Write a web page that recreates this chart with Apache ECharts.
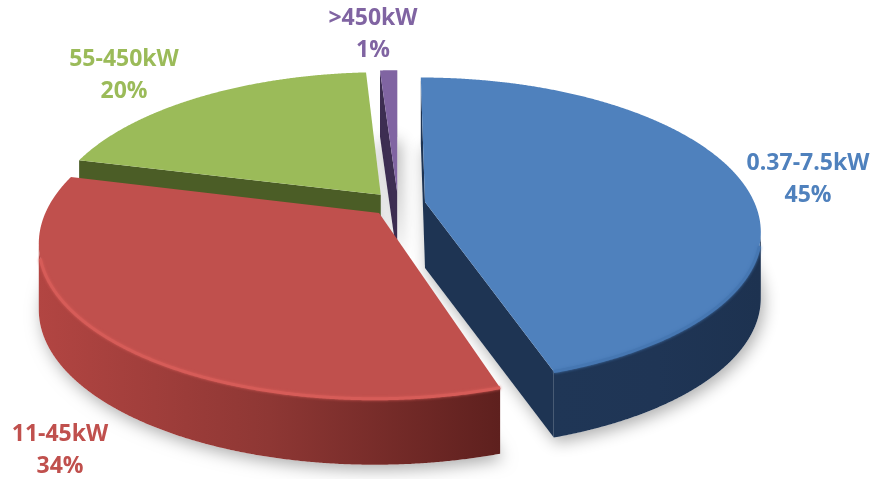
<!DOCTYPE html>
<html>
<head>
<meta charset="utf-8">
<script src="https://cdn.jsdelivr.net/npm/echarts@6/dist/echarts.min.js"></script>
<style>
  html, body { margin: 0; padding: 0; background: #ffffff; }
  #chart { width: 875px; height: 479px; }
</style>
</head>
<body>
<div id="chart"></div>
<script>
// Motor power classes and their share of the installed base (%)
const categories = ['0.37-7.5kW', '11-45kW', '55-450kW', '>450kW'];
const shares = [45, 34, 20, 1];

// Label anchors (centre of the two-line label), in pixels
const labelAnchors = [[808, 179], [60, 450], [124, 75], [373, 34]];

// Per-slice colours: top face, outer wall, cut face, rim highlight, label
const palette = [
  { top: '#4f81bd', wall: ['#1f3656', '#1f3555', '#1d3250'], cut: '#1e3453', rim: '#4677b2', label: '#4f81bd' },
  { top: '#c0504d', wall: ['#b24542', '#8e3734', '#5e201e'], cut: '#7a2c2a', rim: '#d65c58', label: '#c0504d' },
  { top: '#9bbb59', wall: ['#55692c', '#4f6128', '#465724'], cut: '#4b5d26', rim: '#a9c86a', label: '#9bbb59' },
  { top: '#8064a2', wall: ['#46355c', '#3f3054', '#392b4c'], cut: '#3d2e52', rim: '#8f74b0', label: '#8064a2' }
];

// Tilted, perspective view of the pie disc
const view = { cx: 398, cy: 204, ax: 330, bz: 148, depth: 66, persp: 0.183, explode: 0.083 };
const camZ = 1 / view.persp;

const total = shares.reduce((a, b) => a + b, 0);
const bounds = [];
let acc = 0;
shares.forEach(v => {
  const a0 = acc / total * 2 * Math.PI;
  acc += v;
  bounds.push([a0, acc / total * 2 * Math.PI]);
});

// explode each slice outward along its mid angle (angles clockwise from the back)
function offsetOf(i) {
  const m = (bounds[i][0] + bounds[i][1]) / 2;
  return [view.explode * Math.sin(m), -view.explode * Math.cos(m)];
}
function project(X, Z, h) {
  const f = 1 / (1 - view.persp * Z);
  return [view.cx + view.ax * X * f, view.cy + view.bz * Z * f + view.depth * h];
}
function pt(i, th, r, h) {
  const o = offsetOf(i);
  return project(o[0] + r * Math.sin(th), o[1] - r * Math.cos(th), h);
}
function wallVisible(i, th) {
  const o = offsetOf(i);
  return -o[0] * Math.sin(th) - 1 - (camZ - o[1]) * Math.cos(th) > 0;
}
function cutVisible(i, th, isStart) {
  const o = offsetOf(i);
  const nx = isStart ? -Math.cos(th) : Math.cos(th);
  const nz = isStart ? -Math.sin(th) : Math.sin(th);
  return -o[0] * nx + (camZ - o[1]) * nz > 0;
}

// back-to-front drawing order
const order = shares.map((_, i) => i).sort((a, b) => offsetOf(a)[1] - offsetOf(b)[1]);
const rank = [];
order.forEach((idx, k) => { rank[idx] = k; });

const DEG = Math.PI / 180;

function renderItem(params, api) {
  const i = params.dataIndex;
  const a0 = bounds[i][0], a1 = bounds[i][1];
  const base = rank[i] * 10;
  const st = palette[i];
  const children = [];
  const steps = Math.max(6, Math.ceil((a1 - a0) / (Math.PI / 720)));
  const ths = [];
  for (let k = 0; k <= steps; k++) ths.push(a0 + (a1 - a0) * k / steps);

  // soft drop shadow cast from the slice footprint
  const foot = [pt(i, 0, 0, 1)].concat(ths.map(t => pt(i, t, 1, 1)));
  children.push({
    type: 'polygon', z2: base, shape: { points: foot },
    style: { fill: '#ffffff', shadowBlur: 16, shadowColor: 'rgba(0,0,0,0.32)', shadowOffsetX: 3, shadowOffsetY: 5 }
  });

  // radial cut faces
  [[a0, true], [a1, false]].forEach(([t, s]) => {
    if (cutVisible(i, t, s)) {
      children.push({
        type: 'polygon', z2: base + 1,
        shape: { points: [pt(i, 0, 0, 0), pt(i, t, 1, 0), pt(i, t, 1, 1), pt(i, 0, 0, 1)] },
        style: { fill: st.cut }
      });
    }
  });

  // outer curved wall, front-facing part only
  const vis = ths.filter(t => wallVisible(i, t));
  if (vis.length > 1) {
    const topRim = vis.map(t => pt(i, t, 1, 0));
    const botRim = vis.slice().reverse().map(t => pt(i, t, 1, 1));
    children.push({
      type: 'polygon', z2: base + 2,
      shape: { points: topRim.concat(botRim) },
      style: {
        fill: {
          type: 'linear', x: 0, y: 0, x2: 1, y2: 0,
          colorStops: [
            { offset: 0, color: st.wall[0] },
            { offset: 0.5, color: st.wall[1] },
            { offset: 1, color: st.wall[2] }
          ]
        }
      }
    });
    // bevel highlight along the rim, kept clear of the silhouette ends
    const lo = vis[0] > a0 + 1e-6 ? vis[0] + 5 * DEG : vis[0];
    const hi = vis[vis.length - 1] < a1 - 1e-6 ? vis[vis.length - 1] - 5 * DEG : vis[vis.length - 1];
    const rimPts = vis.filter(t => t >= lo && t <= hi).map(t => pt(i, t, 1, 0));
    if (rimPts.length > 1) {
      children.push({
        type: 'polyline', z2: base + 4,
        shape: { points: rimPts },
        style: { stroke: st.rim, lineWidth: 3, fill: 'none', shadowBlur: 3, shadowColor: st.rim }
      });
    }
  }

  // top face
  children.push({
    type: 'polygon', z2: base + 3,
    shape: { points: [pt(i, 0, 0, 0)].concat(ths.map(t => pt(i, t, 1, 0))) },
    style: { fill: st.top }
  });

  return { type: 'group', children: children };
}

const chart = echarts.init(document.getElementById('chart'));
chart.setOption({
  backgroundColor: '#ffffff',
  animation: false,
  series: [{
    type: 'custom',
    coordinateSystem: 'none',
    silent: true,
    renderItem: renderItem,
    data: shares.map((v, i) => ({ name: categories[i], value: v }))
  }],
  graphic: categories.map((name, i) => ({
    type: 'text',
    x: labelAnchors[i][0],
    y: labelAnchors[i][1],
    z: 10,
    silent: true,
    style: {
      text: name + '\n' + Math.round(shares[i] / total * 100) + '%',
      fill: palette[i].label,
      font: 'bold 23px "Open Sans", sans-serif',
      lineHeight: 32,
      textAlign: 'center',
      textVerticalAlign: 'middle'
    }
  }))
});
</script>
</body>
</html>
